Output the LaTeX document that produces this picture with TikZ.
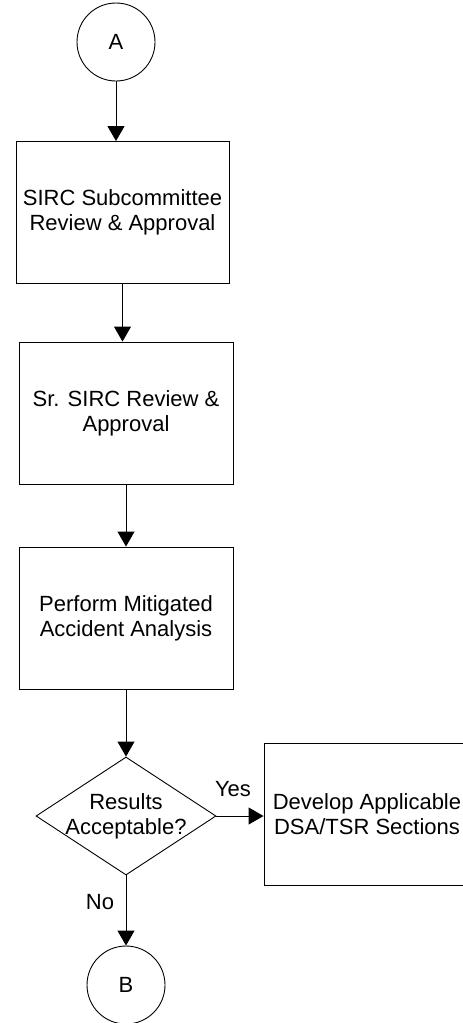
\documentclass[tikz,border=0pt]{standalone}
\usepackage{fontspec}
\setmainfont{Liberation Sans}
\usetikzlibrary{shapes.geometric,arrows.meta}

\begin{document}
\begin{tikzpicture}[x=1pt,y=-1pt,
	font=\fontsize{22}{25}\selectfont,
	conn/.style={draw,circle,line width=0.9pt,minimum size=78pt,inner sep=0},
	stepbox/.style={draw,rectangle,line width=0.9pt,align=center,minimum width=214pt,minimum height=142pt,inner sep=0},
	decision/.style={draw,diamond,line width=0.9pt,minimum width=180pt,minimum height=118pt,inner sep=0},
	arr/.style={line width=0.9pt,-{Triangle[length=15pt,width=17pt]}}]
	\useasboundingbox (0,0) rectangle (463,1023);
	\node[conn] (A) at (116,42) {A};
	\node[stepbox,minimum width=213pt] (sub) at (122.5,212.5) {SIRC Subcommittee\\Review \& Approval};
	\node[stepbox] (sr) at (126,413) {Sr. SIRC Review \&\\Approval};
	\node[stepbox] (mit) at (126,618) {Perform Mitigated\\Accident Analysis};
	\node[decision] (res) at (126,816) {};
	\node[align=center,inner sep=0] (resl) at (res) {Results\\Acceptable?};
	\node[stepbox,minimum width=206pt] (dev) at (367,814) {Develop Applicable\\DSA/TSR Sections};
	\node[conn] (B) at (126,985) {B};
	\node[inner sep=0] (yes) at (233,789) {Yes};
	\node[inner sep=0] (no) at (100,902) {No};
	\draw[arr] (A.south) -- (A.south |- sub.north);
	\draw[arr] (sub.south) -- (sub.south |- sr.north);
	\draw[arr] (sr) -- (mit);
	\draw[arr] (mit) -- (res);
	\draw[arr] (res.east) -- (res.east -| dev.west);
	\draw[arr] (res) -- (B);
\end{tikzpicture}
\end{document}
